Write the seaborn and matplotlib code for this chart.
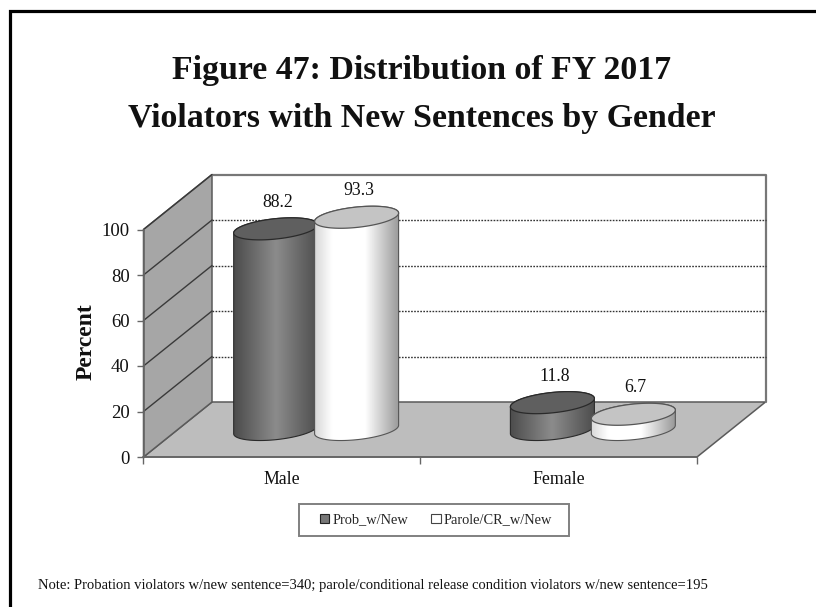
import numpy as np
import pandas as pd
import matplotlib
matplotlib.use("Agg")
import matplotlib.pyplot as plt
from matplotlib.colors import LinearSegmentedColormap
from matplotlib.lines import Line2D
from matplotlib.patches import Polygon, Patch, Rectangle
import seaborn as sns

categories = ["Male", "Female"]
series_names = ["Prob_w/New", "Parole/CR_w/New"]
prob_values = [88.2, 11.8]
parole_values = [93.3, 6.7]
y_ticks = [0, 20, 40, 60, 80, 100]
title_text = "Figure 47: Distribution of FY 2017\nViolators with New Sentences by Gender"
note_text = ("Note: Probation violators w/new sentence=340; parole/conditional release "
             "condition violators w/new sentence=195")

W, H = 816, 607
sns.set_theme(style="white")
plt.rcParams["font.family"] = ["Liberation Serif", "DejaVu Serif"]

df = pd.DataFrame({
    "Gender": categories * 2,
    "Series": [series_names[0]] * 2 + [series_names[1]] * 2,
    "Percent": prob_values + parole_values,
})

fig = plt.figure(figsize=(W / 100, H / 100), dpi=100, facecolor="white")
L, R, T0, B0 = 143.5, 697.0, 229.5, 457.0
ax = fig.add_axes([L / W, 1 - B0 / H, (R - L) / W, (B0 - T0) / H])

face = {series_names[0]: "#777777", series_names[1]: "#ffffff"}
sns.barplot(data=df, x="Gender", y="Percent", hue="Series", order=categories,
            hue_order=series_names, palette=face, width=0.585, gap=0,
            legend=False, saturation=1, ax=ax)

ax.set_xlim(-0.5, 1.5)
ax.set_ylim(0, 100)
ax.patch.set_visible(False)

px_x = 2 / (R - L)
px_y = 100 / (B0 - T0)
dx = 68.5 * px_x
dy = 55 * px_y
x0, x1 = -0.5, 1.5

wall_kw = dict(clip_on=False, zorder=0.5)
ax.add_patch(Polygon([(x0, 0), (x0 + dx, dy), (x1 + dx, dy), (x1, 0)],
                     closed=True, fc="#bdbdbd", ec="#5a5a5a", lw=1.1, **wall_kw))
ax.add_patch(Polygon([(x0, 0), (x0 + dx, dy), (x0 + dx, 100 + dy), (x0, 100)],
                     closed=True, fc="#a6a6a6", ec="#5a5a5a", lw=1.1, **wall_kw))
ax.plot([x0 + dx, x1 + dx, x1 + dx], [100 + dy, 100 + dy, dy],
        color="#777777", lw=1.6, clip_on=False, zorder=0.6)
for v in y_ticks[1:]:
    ax.plot([x0, x0 + dx], [v, v + dy], color="#3a3a3a", lw=1.0, clip_on=False, zorder=0.7)
for v in y_ticks[1:-1]:
    ax.plot([x0 + dx, x1 + dx], [v + dy, v + dy], color="#333333", lw=1.0,
            ls=(0, (1.2, 1.0)), clip_on=False, zorder=0.7)

cmaps = {
    series_names[0]: LinearSegmentedColormap.from_list(
        "d", [(0, "#4c4c4c"), (0.5, "#8c8c8c"), (1, "#4e4e4e")]),
    series_names[1]: LinearSegmentedColormap.from_list(
        "w", [(0, "#d8d8d8"), (0.2, "#ffffff"), (0.6, "#ffffff"), (1, "#9a9a9a")]),
}
top_face = {series_names[0]: "#5f5f5f", series_names[1]: "#c4c4c4"}
edge = {series_names[0]: "#2a2a2a", series_names[1]: "#555555"}

a_px, b_px, tilt = 42.0, 10.2, 0.10
theta = np.linspace(0, 2 * np.pi, 181)


def rim(cx, cy, th):
    ox = a_px * np.cos(th)
    oy = b_px * np.sin(th) + tilt * ox
    return np.column_stack([cx + ox * px_x, cy + oy * px_y])


for s, (name, container) in enumerate(zip(series_names, ax.containers)):
    for bar in container:
        z = 3 + s
        cx = bar.get_x() + bar.get_width() / 2 + dx / 2
        val = bar.get_height()
        base, top = dy / 2, val + dy / 2
        half_w = a_px * px_x
        lower = rim(cx, base, np.linspace(np.pi, 2 * np.pi, 90))
        upper = rim(cx, top, np.linspace(0, np.pi, 90))
        sil = Polygon(np.vstack([lower, upper]), closed=True, transform=ax.transData)

        bar.set_x(cx - half_w)
        bar.set_width(2 * half_w)
        bar.set_y(base)
        bar.set_zorder(z)
        bar.set_clip_box(fig.bbox)
        bar.set_clip_path(sil)

        im = ax.imshow(np.linspace(0, 1, 128)[None, :], cmap=cmaps[name], aspect="auto",
                       extent=(cx - half_w, cx + half_w, base - 14 * px_y, top + 14 * px_y),
                       zorder=z + 0.01)
        im.set_clip_box(fig.bbox)
        im.set_clip_path(sil)
        ax.add_patch(Polygon(np.vstack([lower, upper]), closed=True, fc="none",
                             ec=edge[name], lw=0.8, clip_on=False, zorder=z + 0.02))
        ax.add_patch(Polygon(rim(cx, top, theta), closed=True, fc=top_face[name],
                             ec=edge[name], lw=0.9, clip_on=False, zorder=z + 0.03))
        ax.annotate(f"{val:.1f}", (cx, top), xytext=(1.5, 19), textcoords="offset points",
                    ha="center", va="center", fontsize=12.8, color="#111111", zorder=9,
                    annotation_clip=False)

ax.set_xlim(-0.5, 1.5)
ax.set_ylim(0, 100)

for side in ("top", "right"):
    ax.spines[side].set_visible(False)
for side in ("left", "bottom"):
    ax.spines[side].set_color("#666666")
    ax.spines[side].set_linewidth(1.2)
    ax.spines[side].set_zorder(2)

ax.set_xticks([-0.5, 0.5, 1.5])
ax.set_xticklabels([])
ax.set_xticks([0, 1], labels=categories, minor=True)
ax.tick_params(axis="x", which="major", length=5, width=1, color="#666666", bottom=True)
ax.tick_params(axis="x", which="minor", length=0, pad=10, labelsize=12.8,
               labelcolor="#111111", bottom=True)
ax.set_yticks(y_ticks)
ax.tick_params(axis="y", length=5, width=1, color="#666666", left=True, pad=5,
               labelsize=13.5, labelcolor="#111111")
ax.set_xlabel("")
ax.set_ylabel("Percent", fontsize=17, fontweight="bold", color="#111111")
ax.yaxis.set_label_coords(-0.084, 0.505)

fig.text(422 / W, 1 - 94.5 / H, title_text, ha="center", va="center", fontsize=24.4,
         fontweight="bold", color="#111111", linespacing=1.7)
fig.text(38 / W, 1 - 586 / H, note_text, ha="left", va="center", fontsize=10.5, color="#111111")

handles = [Patch(fc="#777777", ec="#222222", lw=0.8), Patch(fc="white", ec="#444444", lw=0.8)]
fig.add_artist(Rectangle((299 / W, 1 - 536 / H), 270 / W, 32 / H, transform=fig.transFigure,
                         fc="white", ec="#808080", lw=1.4))
leg = fig.legend(handles, series_names, loc="center", bbox_to_anchor=(436 / W, 1 - 520 / H),
                 ncol=2, frameon=False, fontsize=10.4, handlelength=0.65, handleheight=0.65,
                 handletextpad=0.2, columnspacing=1.6, borderpad=0, borderaxespad=0)

fx, fy = 9.5 / W, 1 - 11 / H
fig.add_artist(Line2D([fx, fx, 1], [0, fy, fy], transform=fig.transFigure,
                      color="black", lw=2.3, solid_joinstyle="miter"))

fig.savefig("out.png", dpi=100, facecolor="white")
